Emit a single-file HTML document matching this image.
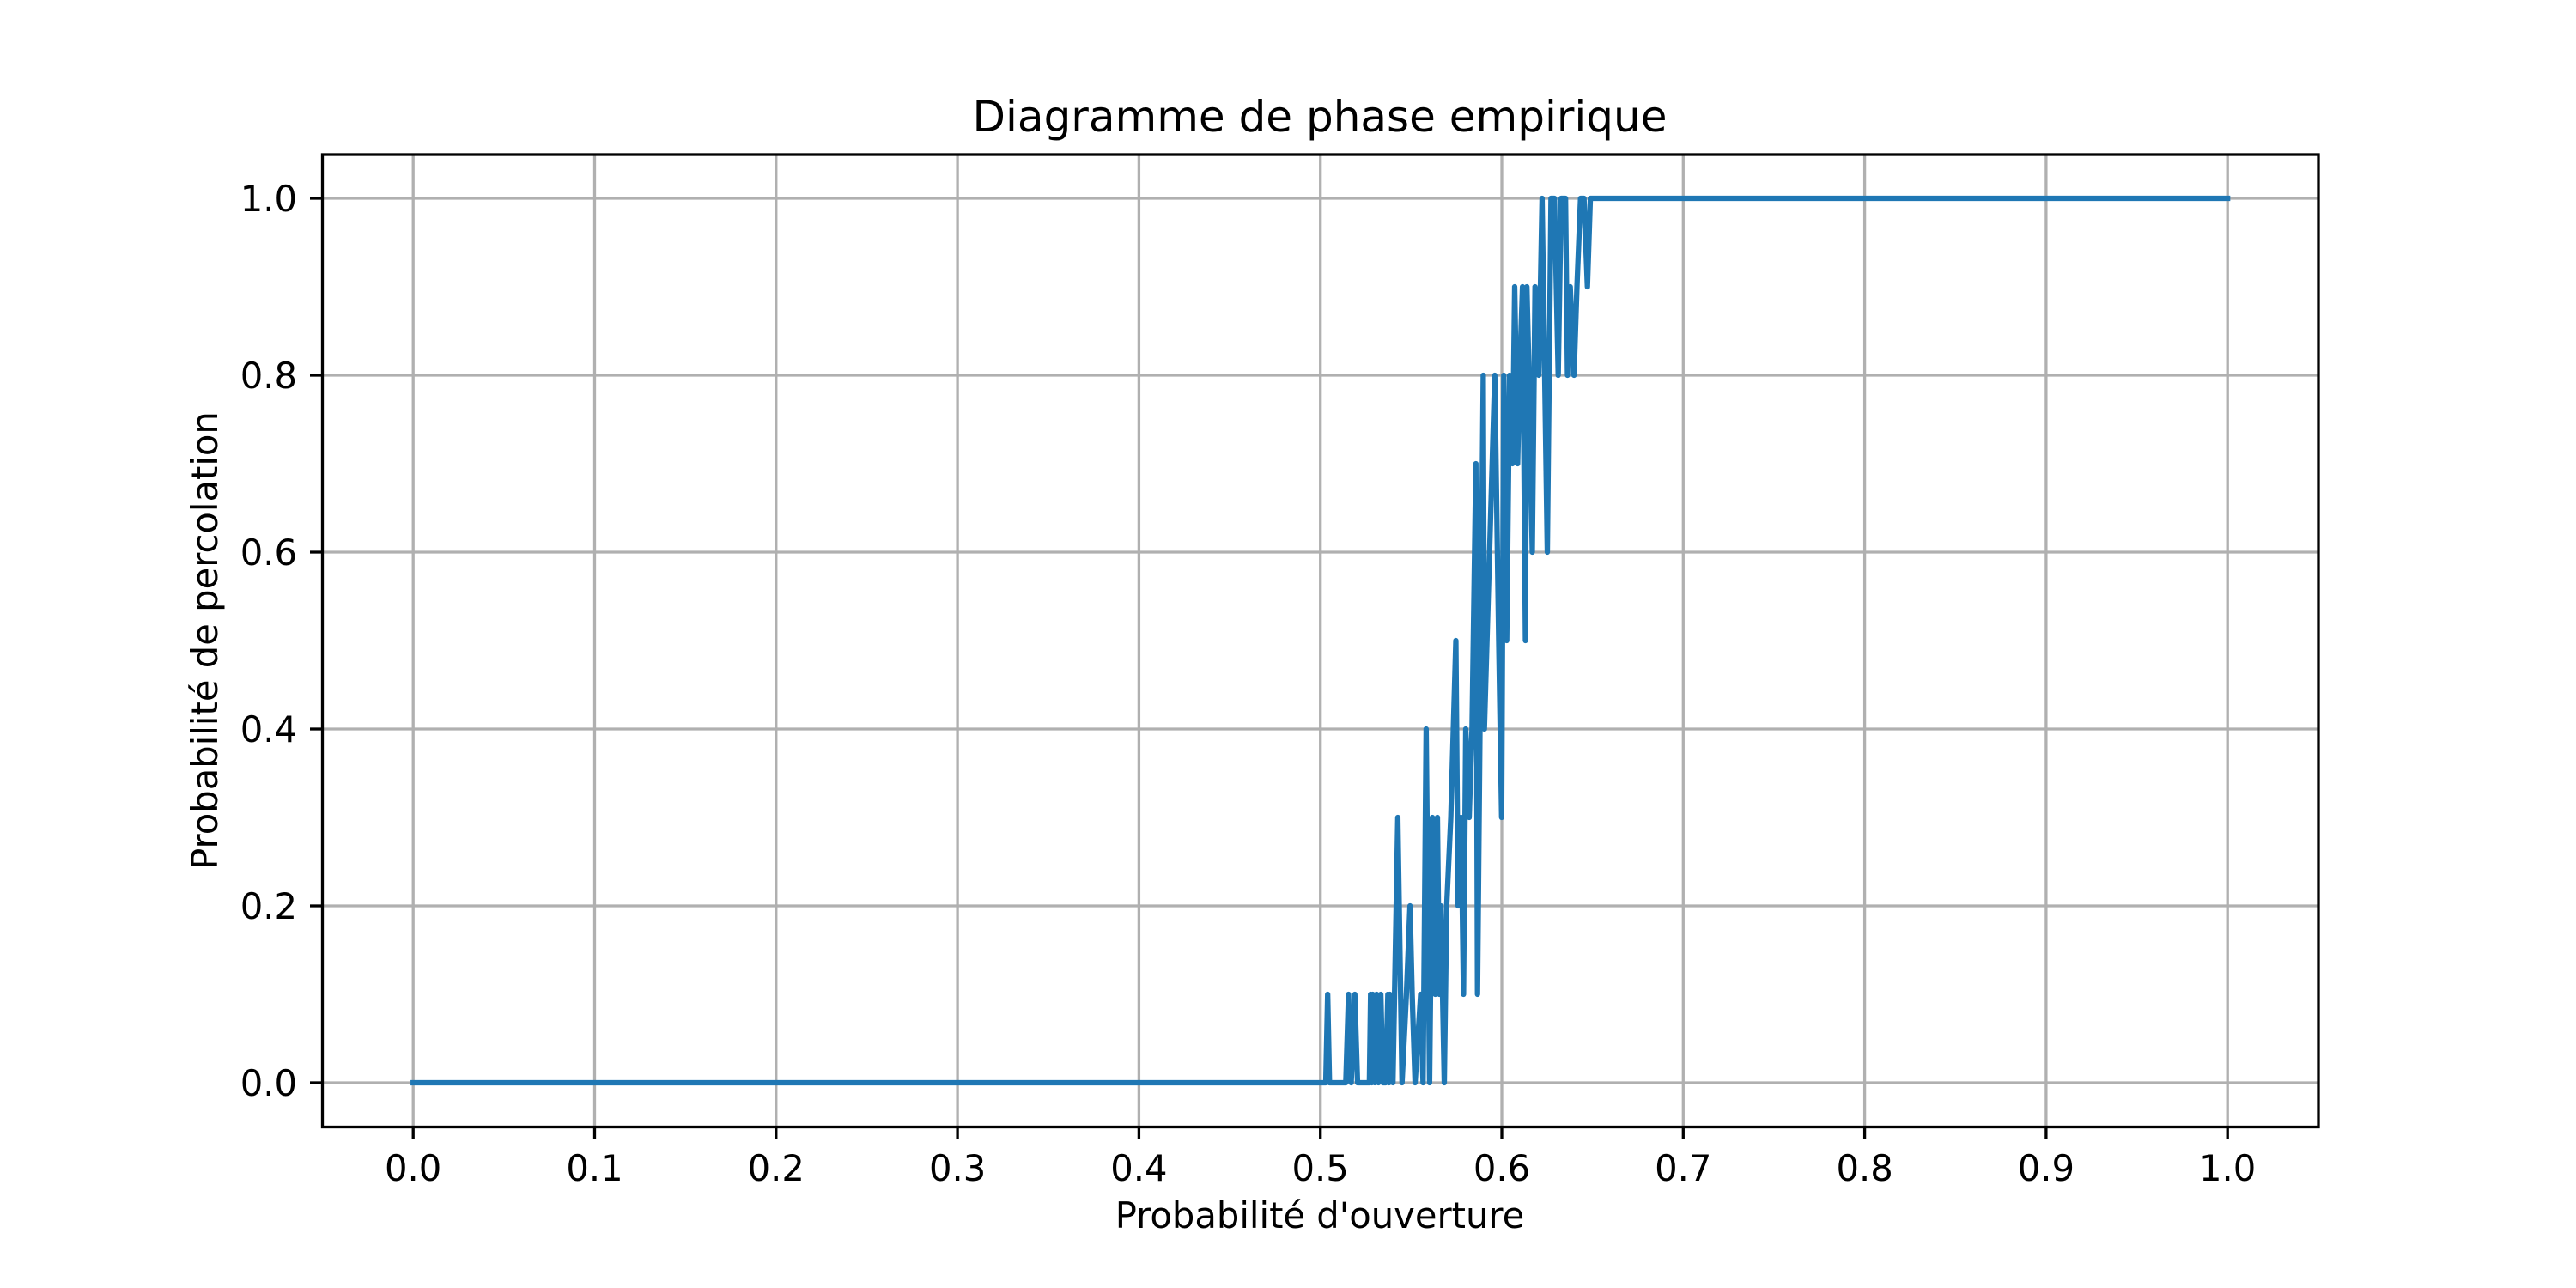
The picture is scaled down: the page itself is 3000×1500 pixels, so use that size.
<!DOCTYPE html>
<html><head><meta charset="utf-8"><style>
html,body{margin:0;padding:0;background:#fff;}
svg{display:block;font-family:"DejaVu Sans","Liberation Sans",sans-serif;}
</style></head><body>
<svg id="chart" width="3000" height="1500" viewBox="0 0 3000 1500" xmlns="http://www.w3.org/2000/svg">
<rect x="0" y="0" width="3000" height="1500" fill="#fff"/>
<g id="grid"></g>
<g id="series"></g>
<rect x="375.5" y="180" width="2324.5" height="1132.5" fill="none" stroke="#000" stroke-width="3.3"/>
<g id="ticks"></g>
<text x="1537" y="153" text-anchor="middle" font-size="50" fill="#000">Diagramme de phase empirique</text>
<text x="1537" y="1430" text-anchor="middle" font-size="41.7" fill="#000">Probabilité d'ouverture</text>
<text x="0" y="0" transform="translate(253,746) rotate(-90)" text-anchor="middle" font-size="41.7" fill="#000">Probabilité de percolation</text>
</svg>
<script>
const xTicks = [0,0.1,0.2,0.3,0.4,0.5,0.6,0.7,0.8,0.9,1.0];
const xTickLabels = ["0.0","0.1","0.2","0.3","0.4","0.5","0.6","0.7","0.8","0.9","1.0"];
const yTicks = [0,0.2,0.4,0.6,0.8,1.0];
const yTickLabels = ["0.0","0.2","0.4","0.6","0.8","1.0"];
const openProb = [0,0.503,0.504,0.505,0.514,0.5155,0.517,0.519,0.5205,0.527,0.5277,0.5283,0.5288,0.530,0.531,0.532,0.5333,0.5345,0.536,0.5372,0.5378,0.5383,0.540,0.5427,0.545,0.5474,0.5494,0.5506,0.5522,0.5553,0.5566,0.5583,0.5602,0.5617,0.5633,0.5645,0.5656,0.5664,0.5683,0.5696,0.5719,0.5747,0.5759,0.5775,0.5789,0.5801,0.5820,0.5836,0.5857,0.5866,0.5898,0.5904,0.5961,0.5983,0.5999,0.6011,0.6027,0.6043,0.6059,0.6071,0.6087,0.6098,0.6114,0.613,0.6138,0.6150,0.6168,0.6183,0.6204,0.6222,0.6251,0.6271,0.6290,0.6311,0.6327,0.6351,0.6362,0.6377,0.6398,0.6414,0.6434,0.6453,0.6472,0.6488,1.0];
const percProb = [0,0,0.1,0,0,0.1,0,0.1,0,0,0.1,0,0.1,0,0.1,0,0.1,0,0,0.1,0,0.1,0,0.3,0,0.1,0.2,0.1,0,0.1,0,0.4,0,0.3,0.1,0.3,0.1,0.2,0,0.2,0.3,0.5,0.2,0.3,0.1,0.4,0.3,0.4,0.7,0.1,0.8,0.4,0.8,0.5,0.3,0.8,0.5,0.8,0.7,0.9,0.7,0.8,0.9,0.5,0.9,0.8,0.6,0.9,0.8,1.0,0.6,1.0,1.0,0.8,1.0,1.0,0.8,0.9,0.8,0.9,1.0,1.0,0.9,1.0,1.0];
const NS="http://www.w3.org/2000/svg";
const X0=481.2, XS=2113, Y0=1261, YS=1030;
function sx(v){return X0+v*XS;}
function sy(v){return Y0-v*YS;}
const grid=document.getElementById('grid'), ticks=document.getElementById('ticks'), series=document.getElementById('series');
function mk(tag,attrs,parent){const e=document.createElementNS(NS,tag);for(const k in attrs)e.setAttribute(k,attrs[k]);parent.appendChild(e);return e;}
xTicks.forEach((v,i)=>{
  const g=mk('line',{x1:sx(v),x2:sx(v),y1:180,y2:1312.5,stroke:'#b0b0b0','stroke-width':3.3},grid);
  
  
  const t=mk('line',{x1:sx(v),x2:sx(v),y1:1312.5,y2:1327,stroke:'#000','stroke-width':3.3},ticks);
  
  
  const l=mk('text',{x:sx(v),y:1375,'text-anchor':'middle','font-size':41.7,fill:'#000'},ticks);
  l.textContent=xTickLabels[i];
  
  
});
yTicks.forEach((v,i)=>{
  const g=mk('line',{x1:375.5,x2:2700,y1:sy(v),y2:sy(v),stroke:'#b0b0b0','stroke-width':3.3},grid);
  
  
  const t=mk('line',{x1:361,x2:375.5,y1:sy(v),y2:sy(v),stroke:'#000','stroke-width':3.3},ticks);
  
  
  const l=mk('text',{x:346,y:sy(v)+15,'text-anchor':'end','font-size':41.7,fill:'#000'},ticks);
  l.textContent=yTickLabels[i];
  
  
});
const pts=openProb.map((p,i)=>sx(p).toFixed(1)+','+sy(percProb[i]).toFixed(1)).join(' ');
const line=mk('polyline',{points:pts,fill:'none',stroke:'#1f77b4','stroke-width':6.25,'stroke-linejoin':'round','stroke-linecap':'square'},series);


</script>
</body></html>
